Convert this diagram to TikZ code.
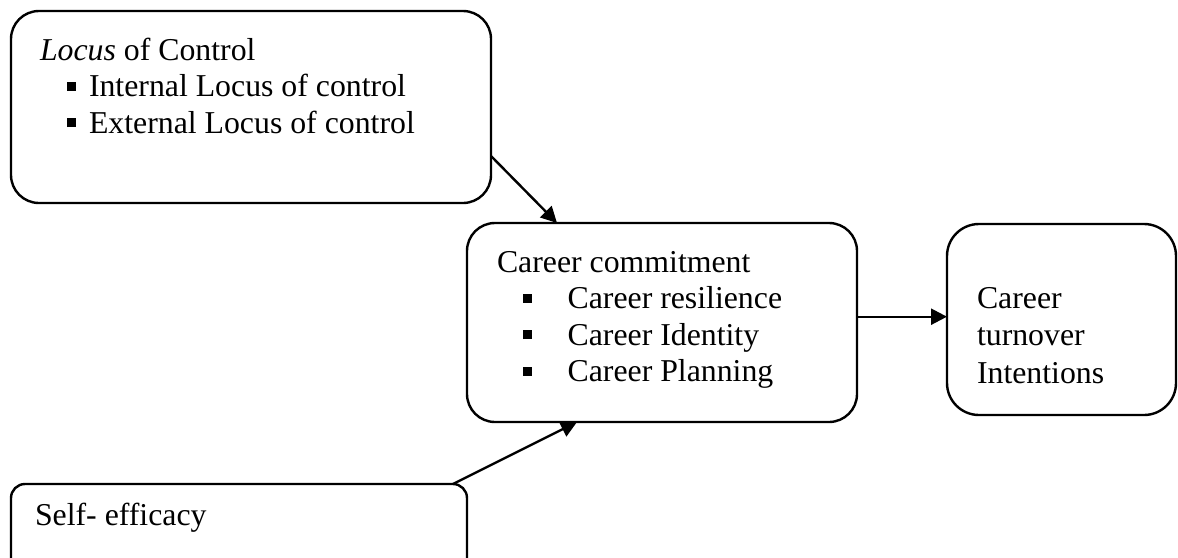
\documentclass[tikz,border=0pt]{standalone}
\usepackage{fontspec}
\setmainfont{Liberation Serif}
\usetikzlibrary{arrows.meta}
\newcommand\mybullet{\rule[3pt]{4.5pt}{4.5pt}}
\begin{document}
\begin{tikzpicture}[x=0.5pt,y=-0.5pt,
  box/.style={draw, line width=1.2pt, rounded corners=14pt, inner sep=0pt, outer sep=0pt, anchor=north west},
  txt/.style={inner sep=0pt, outer sep=0pt, anchor=base west, font=\fontsize{15.9pt}{18.3pt}\selectfont},
  arr/.style={line width=1.2pt, -{Triangle[length=8pt,width=8pt]}}]
\useasboundingbox (0,0) rectangle (1178,557);
\clip (0,0) rectangle (1178,557);
% boxes
\node[box, minimum width=240pt, minimum height=96pt] (loc) at (11,11) {};
\node[box, minimum width=195pt, minimum height=99.5pt] (ccm) at (467,223) {};
\node[box, minimum width=114.5pt, minimum height=95.5pt, rounded corners=16pt] (tov) at (947,224) {};
\node[box, minimum width=228pt, minimum height=53pt, rounded corners=7pt] (sef) at (11,484) {};
% texts
\node[txt] (t1) at (40,60) {\textit{Locus} of Control};
\node[txt] (t2) at (67,96.5) {\mybullet\hspace{6.5pt}Internal Locus of control};
\node[txt] (t3) at (67,133) {\mybullet\hspace{6.5pt}External Locus of control};
\node[txt] (c1) at (497,272) {Career commitment};
\node[txt] (c2) at (523,308.5) {\mybullet\hspace{17.8pt}Career resilience};
\node[txt] (c3) at (523,345) {\mybullet\hspace{17.8pt}Career Identity};
\node[txt] (c4) at (523,381.5) {\mybullet\hspace{17.8pt}Career Planning};
\node[txt] (o1) at (977,308) {Career};
\node[txt] (o2) at (977,345.5) {turnover};
\node[txt] (o3) at (977,383) {Intentions};
\node[txt] (s1) at (35,525.7) {Self- efficacy};
% connectors
\draw[arr] ([yshift=-24.5pt]loc.east) -- ([xshift=-52.5pt]ccm.north);
\draw[arr] ([xshift=107pt]sef.north) -- ([xshift=-42.5pt]ccm.south);
\draw[arr] ([yshift=2.9pt]ccm.east) -- ([yshift=2.9pt]ccm.east -| tov.west);
\end{tikzpicture}
\end{document}
